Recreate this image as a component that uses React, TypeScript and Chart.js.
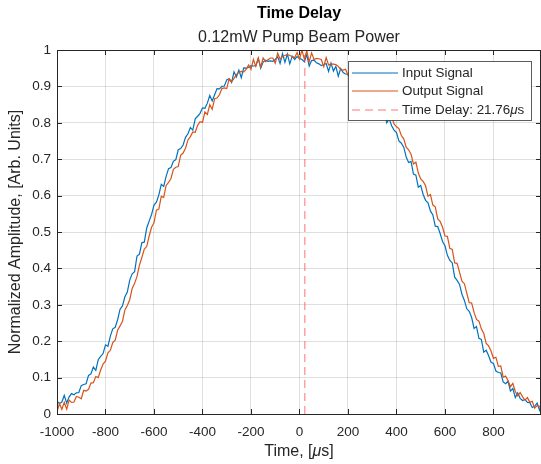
import React, { useEffect, useRef } from "react";
import { Chart, registerables } from "chart.js";

Chart.register(...registerables);

const TITLE = "Time Delay";
const SUBTITLE = "0.12mW Pump Beam Power";
const Y_LABEL = "Normalized Amplitude, [Arb. Units]";
const LEGEND_LABELS = ["Input Signal", "Output Signal", "Time Delay: "];

// sampling grid of the recorded traces (µs)
const TIME_START = -1000;
const TIME_STEP = 10;

const INPUT_SIGNAL = [
  0.035, 0.029, 0.033, 0.051, 0.03, 0.047, 0.056, 0.053, 0.058, 0.059,
  0.078, 0.081, 0.083, 0.106, 0.11, 0.129, 0.12, 0.149, 0.158, 0.166,
  0.19, 0.186, 0.214, 0.234, 0.238, 0.259, 0.288, 0.297, 0.322, 0.335,
  0.368, 0.385, 0.391, 0.434, 0.439, 0.471, 0.472, 0.511, 0.53, 0.548,
  0.574, 0.582, 0.602, 0.631, 0.625, 0.653, 0.674, 0.677, 0.694, 0.699,
  0.726, 0.729, 0.739, 0.76, 0.77, 0.787, 0.78, 0.811, 0.818, 0.826,
  0.841, 0.84, 0.854, 0.875, 0.86, 0.877, 0.894, 0.893, 0.9, 0.901,
  0.918, 0.921, 0.911, 0.94, 0.926, 0.945, 0.924, 0.951, 0.95, 0.952,
  0.957, 0.956, 0.957, 0.977, 0.95, 0.967, 0.972, 0.969, 0.97, 0.969,
  0.974, 0.981, 0.963, 0.99, 0.966, 0.989, 0.962, 0.983, 0.974, 0.982,
  0.977, 0.974, 0.968, 0.987, 0.956, 0.971, 0.972, 0.965, 0.962, 0.957,
  0.96, 0.963, 0.941, 0.964, 0.942, 0.955, 0.928, 0.949, 0.938, 0.934,
  0.933, 0.924, 0.92, 0.929, 0.898, 0.905, 0.904, 0.891, 0.884, 0.873,
  0.874, 0.867, 0.845, 0.858, 0.83, 0.833, 0.8, 0.811, 0.792, 0.78,
  0.773, 0.75, 0.744, 0.733, 0.706, 0.691, 0.694, 0.659, 0.656, 0.623,
  0.628, 0.603, 0.587, 0.58, 0.558, 0.547, 0.516, 0.515, 0.496, 0.474,
  0.462, 0.436, 0.422, 0.415, 0.376, 0.367, 0.356, 0.329, 0.312, 0.289,
  0.282, 0.265, 0.235, 0.24, 0.208, 0.205, 0.17, 0.175, 0.16, 0.142,
  0.139, 0.118, 0.114, 0.113, 0.088, 0.083, 0.09, 0.063, 0.07, 0.045,
  0.058, 0.043, 0.037, 0.04, 0.032, 0.031, 0.018, 0.021, 0.03, 0.01,
  0.027,
];

const OUTPUT_SIGNAL = [
  0.007, 0.028, 0.013, 0.032, 0.013, 0.038, 0.032, 0.033, 0.048, 0.046,
  0.042, 0.065, 0.063, 0.068, 0.085, 0.086, 0.103, 0.1, 0.121, 0.137,
  0.145, 0.168, 0.175, 0.196, 0.203, 0.23, 0.242, 0.255, 0.286, 0.298,
  0.314, 0.345, 0.359, 0.378, 0.409, 0.43, 0.453, 0.46, 0.489, 0.513,
  0.525, 0.56, 0.563, 0.598, 0.595, 0.628, 0.636, 0.647, 0.672, 0.678,
  0.68, 0.711, 0.717, 0.73, 0.753, 0.762, 0.775, 0.774, 0.793, 0.803,
  0.801, 0.83, 0.823, 0.85, 0.837, 0.866, 0.868, 0.877, 0.894, 0.896,
  0.894, 0.921, 0.913, 0.922, 0.933, 0.938, 0.941, 0.94, 0.947, 0.959,
  0.947, 0.974, 0.955, 0.978, 0.953, 0.978, 0.968, 0.973, 0.978, 0.978,
  0.964, 0.991, 0.975, 0.982, 0.985, 0.988, 0.985, 0.982, 0.979, 0.993,
  0.975, 1.0, 0.975, 0.998, 0.967, 0.992, 0.974, 0.977, 0.976, 0.974,
  0.954, 0.979, 0.959, 0.962, 0.961, 0.96, 0.955, 0.946, 0.945, 0.947,
  0.931, 0.948, 0.923, 0.934, 0.905, 0.92, 0.902, 0.895, 0.896, 0.88,
  0.87, 0.875, 0.861, 0.846, 0.853, 0.838, 0.833, 0.808, 0.817, 0.797,
  0.789, 0.784, 0.765, 0.756, 0.733, 0.726, 0.714, 0.687, 0.692, 0.662,
  0.646, 0.639, 0.627, 0.598, 0.603, 0.574, 0.569, 0.536, 0.529, 0.513,
  0.489, 0.488, 0.455, 0.452, 0.415, 0.414, 0.39, 0.365, 0.358, 0.332,
  0.306, 0.305, 0.279, 0.26, 0.255, 0.234, 0.221, 0.194, 0.187, 0.173,
  0.153, 0.156, 0.131, 0.132, 0.101, 0.104, 0.092, 0.075, 0.084, 0.062,
  0.05, 0.059, 0.047, 0.038, 0.045, 0.032, 0.035, 0.016, 0.023, 0.021,
  0.009,
];

const DELAY_US = 21.76;

const X_TICKS = [-1000, -800, -600, -400, -200, 0, 200, 400, 600, 800];
const Y_TICKS = [0, 0.1, 0.2, 0.3, 0.4, 0.5, 0.6, 0.7, 0.8, 0.9, 1];
const X_MIN = -1000;
const X_MAX = 996;
const Y_MIN = 0;
const Y_MAX = 1;

const BLUE = "#0072BD";
const ORANGE = "#D95319";
const DELAY_COLOR = "rgba(255, 70, 70, 0.5)";
const AXIS_COLOR = "#262626";
const FONT = "'Liberation Sans', Arial, Helvetica, sans-serif";

function toPoints(values: number[]) {
  return values.map((y, i) => ({ x: TIME_START + i * TIME_STEP, y }));
}

function drawMixed(
  ctx: CanvasRenderingContext2D,
  parts: { t: string; italic?: boolean }[],
  x: number,
  y: number,
  size: number,
  align: "left" | "center"
) {
  const fontFor = (it?: boolean) => `${it ? "italic " : ""}${size}px ${FONT}`;
  let total = 0;
  const widths = parts.map((p) => {
    ctx.font = fontFor(p.italic);
    const w = ctx.measureText(p.t).width;
    total += w;
    return w;
  });
  let cx = align === "center" ? x - total / 2 : x;
  ctx.textAlign = "left";
  ctx.textBaseline = "middle";
  parts.forEach((p, i) => {
    ctx.font = fontFor(p.italic);
    ctx.fillText(p.t, cx, y);
    cx += widths[i];
  });
}

const decorPlugin = {
  id: "matlabDecor",
  afterDraw(chart: any) {
    const { ctx, chartArea } = chart;
    const { left, right, top, bottom } = chartArea;
    const xs = chart.scales.x;
    const ys = chart.scales.y;
    ctx.save();
    ctx.strokeStyle = AXIS_COLOR;
    ctx.lineWidth = 1;
    // box
    ctx.beginPath();
    ctx.moveTo(left + 0.5, top + 0.5);
    ctx.lineTo(right - 0.5, top + 0.5);
    ctx.moveTo(left + 0.5, bottom + 0.5);
    ctx.lineTo(right - 0.5, bottom + 0.5);
    ctx.moveTo(left + 0.5, top + 0.5);
    ctx.lineTo(left + 0.5, bottom + 0.5);
    ctx.moveTo(right - 0.5, top + 0.5);
    ctx.lineTo(right - 0.5, bottom + 0.5);
    ctx.stroke();
    // inward ticks
    ctx.beginPath();
    X_TICKS.forEach((v) => {
      const px = Math.round(xs.getPixelForValue(v)) + 0.5;
      ctx.moveTo(px, bottom);
      ctx.lineTo(px, bottom - 5);
      ctx.moveTo(px, top);
      ctx.lineTo(px, top + 5);
    });
    Y_TICKS.forEach((v) => {
      const py = Math.round(ys.getPixelForValue(v)) + 0.5;
      ctx.moveTo(left, py);
      ctx.lineTo(left + 5, py);
      ctx.moveTo(right, py);
      ctx.lineTo(right - 5, py);
    });
    ctx.stroke();

    // titles
    const cx = (left + right) / 2;
    ctx.fillStyle = "#000";
    ctx.textAlign = "center";
    ctx.textBaseline = "middle";
    ctx.font = `bold 16px ${FONT}`;
    ctx.fillText(TITLE, cx, 14);
    ctx.fillStyle = AXIS_COLOR;
    ctx.font = `16px ${FONT}`;
    ctx.fillText(SUBTITLE, cx, 38);

    // x axis title
    drawMixed(
      ctx,
      [{ t: "Time, [" }, { t: "\u03bc", italic: true }, { t: "s]" }],
      cx,
      452,
      16,
      "center"
    );

    // legend
    const lx = 348.5;
    const ly = 61.5;
    const lw = 183;
    const lh = 59;
    ctx.fillStyle = "#ffffff";
    ctx.fillRect(lx, ly, lw, lh);
    ctx.strokeStyle = "rgba(38,38,38,0.75)";
    ctx.lineWidth = 1;
    ctx.strokeRect(lx, ly, lw, lh);
    const rows = [73, 91, 110];
    const items = [
      { color: BLUE, dash: [] as number[], width: 1.2 },
      { color: ORANGE, dash: [] as number[], width: 1.2 },
      { color: DELAY_COLOR, dash: [8, 5], width: 1.5 },
    ];
    items.forEach((it, i) => {
      ctx.beginPath();
      ctx.setLineDash(it.dash);
      ctx.strokeStyle = it.color;
      ctx.lineWidth = it.width;
      ctx.moveTo(352, rows[i]);
      ctx.lineTo(398, rows[i]);
      ctx.stroke();
    });
    ctx.setLineDash([]);
    ctx.fillStyle = AXIS_COLOR;
    const LF = 13.4;
    drawMixed(ctx, [{ t: LEGEND_LABELS[0] }], 402, rows[0], LF, "left");
    drawMixed(ctx, [{ t: LEGEND_LABELS[1] }], 402, rows[1], LF, "left");
    drawMixed(
      ctx,
      [
        { t: LEGEND_LABELS[2] + DELAY_US.toFixed(2) },
        { t: "\u03bc", italic: true },
        { t: "s" },
      ],
      402,
      rows[2],
      LF,
      "left"
    );
    ctx.restore();
  },
};

export default function App() {
  const canvasRef = useRef<HTMLCanvasElement | null>(null);

  useEffect(() => {
    document.body.style.margin = "0";
    const canvas = canvasRef.current;
    if (!canvas) return;
    const chart = new Chart(canvas, {
      type: "line",
      data: {
        datasets: [
          {
            label: "Input Signal",
            data: toPoints(INPUT_SIGNAL),
            borderColor: BLUE,
            borderWidth: 1.2,
            pointRadius: 0,
            tension: 0,
            order: 2,
          },
          {
            label: "Output Signal",
            data: toPoints(OUTPUT_SIGNAL),
            borderColor: ORANGE,
            borderWidth: 1.2,
            pointRadius: 0,
            tension: 0,
            order: 1,
          },
          {
            label: "Time Delay",
            data: [
              { x: DELAY_US, y: Y_MIN },
              { x: DELAY_US, y: Y_MAX },
            ],
            borderColor: DELAY_COLOR,
            borderWidth: 1.5,
            borderDash: [8, 5],
            pointRadius: 0,
            order: 0,
          },
        ],
      },
      options: {
        responsive: false,
        animation: false,
        devicePixelRatio: 1,
        parsing: false as any,
        layout: { padding: { top: 50, left: 0, right: 0, bottom: 0 } },
        plugins: {
          legend: { display: false },
          tooltip: { enabled: false },
        },
        scales: {
          x: {
            type: "linear",
            min: X_MIN,
            max: X_MAX,
            afterBuildTicks: (scale: any) => {
              scale.ticks = X_TICKS.map((v) => ({ value: v }));
            },
            afterFit: (scale: any) => {
              scale.height = 50;
            },
            grid: {
              color: "rgba(38,38,38,0.15)",
              drawTicks: false,
            },
            border: { display: false },
            ticks: {
              color: AXIS_COLOR,
              font: { size: 13.5, family: FONT },
              padding: 10,
              maxRotation: 0,
              autoSkip: false,
              callback: (v: any) => String(v),
            },
          },
          y: {
            type: "linear",
            min: Y_MIN,
            max: Y_MAX,
            afterBuildTicks: (scale: any) => {
              scale.ticks = Y_TICKS.map((v) => ({ value: v }));
            },
            afterFit: (scale: any) => {
              scale.width = 57;
            },
            grid: {
              color: "rgba(38,38,38,0.15)",
              drawTicks: false,
            },
            border: { display: false },
            ticks: {
              color: AXIS_COLOR,
              font: { size: 13.5, family: FONT },
              padding: 6,
              autoSkip: false,
              callback: (v: any) => String(Math.round(Number(v) * 10) / 10),
            },
            title: {
              display: true,
              text: Y_LABEL,
              color: AXIS_COLOR,
              font: { size: 16, family: FONT },
              padding: { top: 6, bottom: 0 },
            },
          },
        },
      },
      plugins: [decorPlugin],
    });
    return () => chart.destroy();
  }, []);

  return (
    <div style={{ width: 541, height: 464, background: "#fff" }}>
      <canvas ref={canvasRef} width={541} height={464} />
    </div>
  );
}
